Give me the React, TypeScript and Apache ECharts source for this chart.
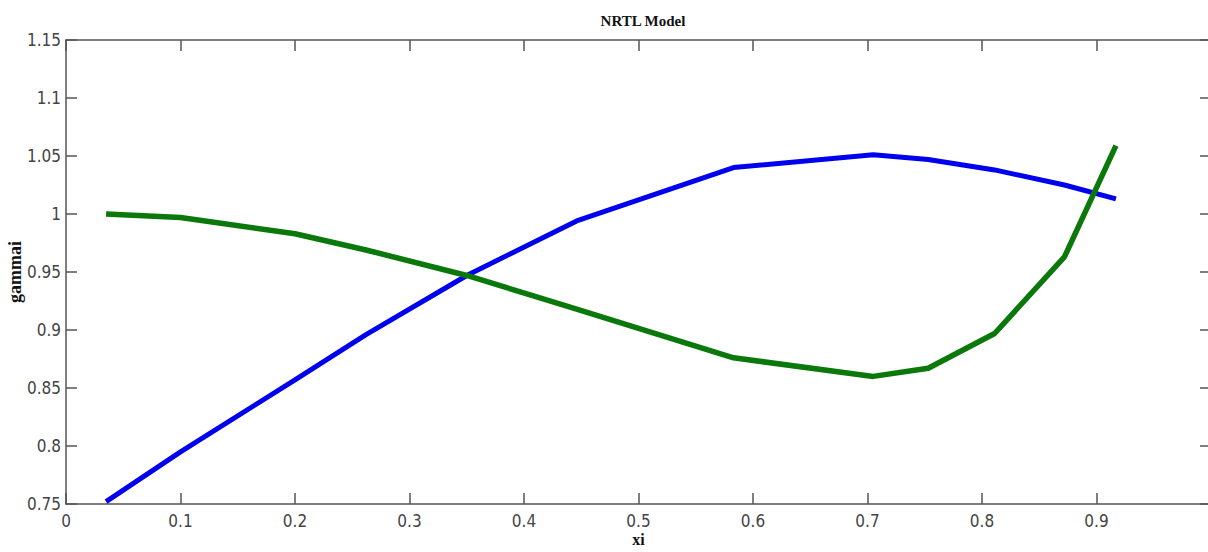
import React, { useEffect, useRef } from "react";
import * as echarts from "echarts";

const xi = [0.035, 0.1, 0.2, 0.262, 0.35, 0.446, 0.583, 0.705, 0.753, 0.811, 0.872, 0.917];
const gammaBlue = [0.752, 0.795, 0.857, 0.896, 0.947, 0.994, 1.040, 1.051, 1.047, 1.038, 1.025, 1.013];
const gammaGreen = [1.0, 0.997, 0.983, 0.969, 0.947, 0.918, 0.876, 0.860, 0.867, 0.897, 0.963, 1.059];

const title = "NRTL Model";
const xName = "xi";
const yName = "gammai";

const tickFont = "'Liberation Sans Narrow', 'DejaVu Sans Condensed', 'Roboto', sans-serif";
const serif = "'Liberation Serif', 'DejaVu Serif', serif";
const axisColor = "#555";

const fmt = (v: number) => String(parseFloat(v.toFixed(2)));
const fmtX = (v: number) => (v >= 0.999 ? "" : fmt(v));

export default function App() {
  const ref = useRef<HTMLDivElement>(null);
  useEffect(() => {
    if (!ref.current) return;
    const chart = echarts.init(ref.current, undefined, { renderer: "svg" });
    const xCommon = {
      type: "value" as const,
      min: 0,
      max: 1,
      interval: 0.1,
      splitLine: { show: false },
      axisLine: { show: true, onZero: false, lineStyle: { color: axisColor, width: 1.5 } },
      axisTick: { show: true, inside: true, length: 11, lineStyle: { color: axisColor, width: 1.5 } },
    };
    const yCommon = {
      type: "value" as const,
      min: 0.75,
      max: 1.15,
      interval: 0.05,
      splitLine: { show: false },
      axisLine: { show: true, onZero: false, lineStyle: { color: axisColor, width: 1.5 } },
      axisTick: { show: true, inside: true, length: 11, lineStyle: { color: axisColor, width: 1.5 } },
    };
    chart.setOption({
      animation: false,
      backgroundColor: "#ffffff",
      title: {
        text: title,
        left: 638,
        textAlign: "center",
        top: 8,
        textStyle: { fontFamily: serif, fontWeight: "bold", fontSize: 15, color: "#111" },
      },
      grid: {
        left: 66,
        top: 40,
        bottom: 48,
        width: 1145,
        containLabel: false,
        outerBoundsMode: "none",
      },
      xAxis: [
        {
          ...xCommon,
          position: "bottom",
          name: xName,
          nameLocation: "middle",
          nameGap: 27,
          nameMoveOverlap: false,
          nameTextStyle: { fontFamily: serif, fontWeight: "bold", fontSize: 16, color: "#111" },
          axisLabel: { show: true, margin: 8, fontFamily: tickFont, fontSize: 17, color: "#444", formatter: fmtX },
        },
        { ...xCommon, position: "top", axisLabel: { show: false } },
      ],
      yAxis: [
        {
          ...yCommon,
          position: "left",
          name: yName,
          nameLocation: "middle",
          nameGap: 42,
          nameMoveOverlap: false,
          nameRotate: 90,
          nameTextStyle: { fontFamily: serif, fontWeight: "bold", fontSize: 18, color: "#111" },
          axisLabel: { show: true, margin: 5, fontFamily: tickFont, fontSize: 17, color: "#444", formatter: fmt },
        },
        { ...yCommon, position: "right", axisLabel: { show: false } },
      ],
      series: [
        {
          type: "line",
          xAxisIndex: 0,
          yAxisIndex: 0,
          data: xi.map((x, i) => [x, gammaBlue[i]]),
          symbol: "none",
          lineStyle: { color: "#0000ee", width: 5 },
          z: 2,
        },
        {
          type: "line",
          xAxisIndex: 0,
          yAxisIndex: 0,
          data: xi.map((x, i) => [x, gammaGreen[i]]),
          symbol: "none",
          lineStyle: { color: "#0a780a", width: 5.5 },
          z: 3,
        },
      ],
    });
    return () => chart.dispose();
  }, []);
  return (
    <div
      ref={ref}
      style={{ position: "fixed", left: 0, top: 0, width: 1208, height: 552, background: "#fff" }}
    />
  );
}
